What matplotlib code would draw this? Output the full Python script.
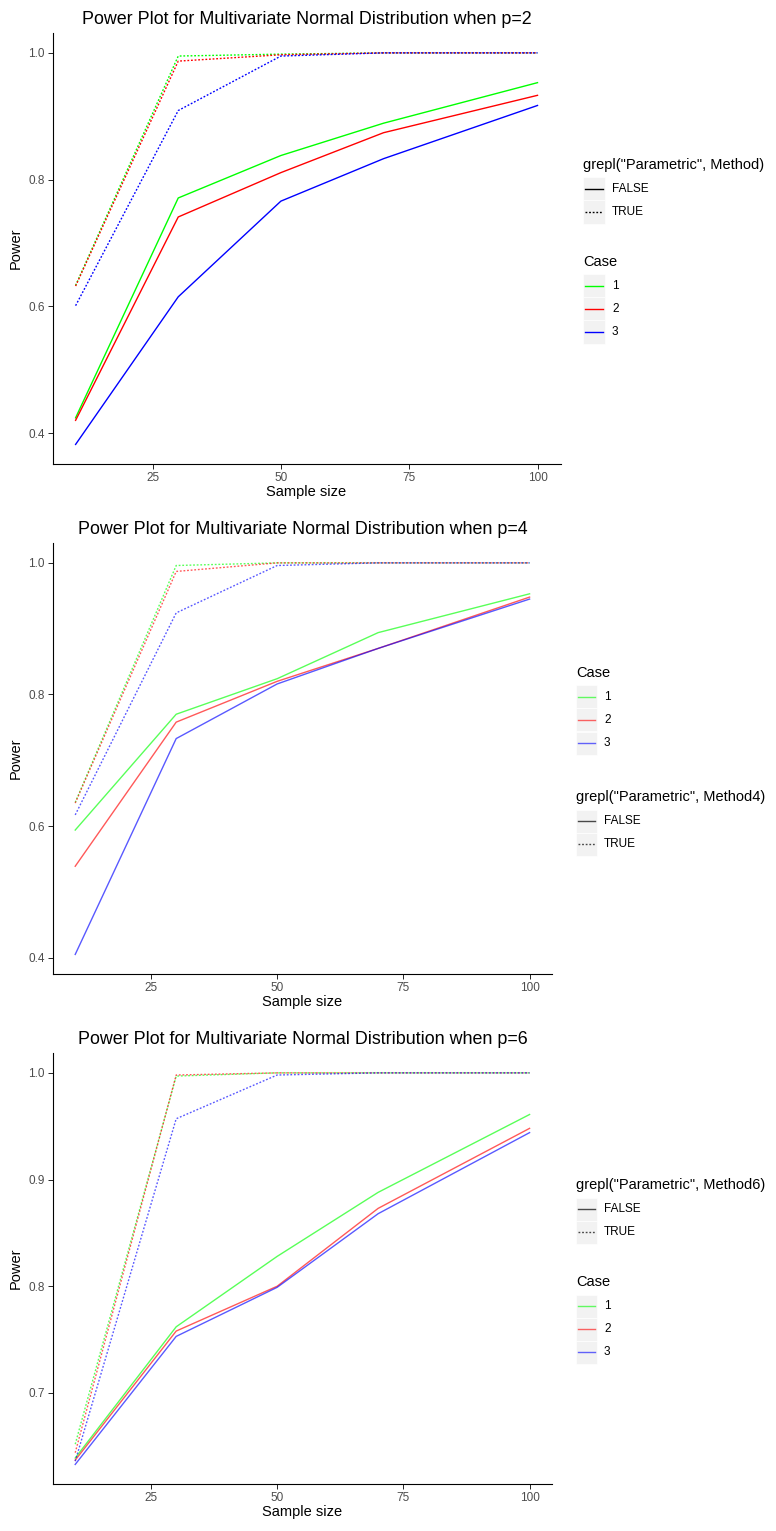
import numpy as np
import matplotlib.pyplot as plt
from matplotlib.patches import Rectangle
from matplotlib.lines import Line2D

plt.rcParams['font.family'] = ['Liberation Sans', 'DejaVu Sans']

# sample sizes
n = [10, 30, 50, 70, 100]
cases = ['1', '2', '3']
case_colors = ['#00FF00', '#FF0000', '#0000FF']

# p = 2  (solid = non-parametric, dotted = parametric)
p2_np = [[0.424, 0.771, 0.838, 0.889, 0.953],
         [0.420, 0.741, 0.811, 0.874, 0.933],
         [0.382, 0.615, 0.766, 0.833, 0.917]]
p2_par = [[0.633, 0.995, 0.998, 1.0, 1.0],
          [0.632, 0.987, 0.997, 1.0, 1.0],
          [0.601, 0.909, 0.995, 1.0, 1.0]]

# p = 4
p4_np = [[0.594, 0.770, 0.824, 0.894, 0.953],
         [0.539, 0.758, 0.820, 0.870, 0.948],
         [0.405, 0.733, 0.816, 0.870, 0.945]]
p4_par = [[0.636, 0.996, 1.0, 1.0, 1.0],
          [0.635, 0.987, 1.0, 1.0, 1.0],
          [0.617, 0.924, 0.996, 1.0, 1.0]]

# p = 6
p6_np = [[0.639, 0.762, 0.828, 0.888, 0.961],
         [0.637, 0.758, 0.800, 0.873, 0.948],
         [0.633, 0.753, 0.799, 0.868, 0.944]]
p6_par = [[0.652, 0.997, 1.0, 1.0, 1.0],
          [0.644, 0.998, 1.0, 1.0, 1.0],
          [0.636, 0.957, 0.998, 1.0, 1.0]]

lt_labels = ['FALSE', 'TRUE']

W, H = 776, 1531
fig = plt.figure(figsize=(W / 100, H / 100), dpi=100)
dotted = (0, (1.3, 1.3))


def px_rect(l, t, r, b):
    return [l / W, 1 - b / H, (r - l) / W, (b - t) / H]


def draw_panel(rect, title, np_vals, par_vals, yticks, alpha):
    ax = fig.add_axes(px_rect(*rect))
    for i in range(len(cases)):
        ax.plot(n, np_vals[i], color=case_colors[i], lw=1.0, alpha=alpha)
        ax.plot(n, par_vals[i], color=case_colors[i], lw=1.0, alpha=alpha, ls=dotted)
    allv = np.concatenate([np.ravel(np_vals), np.ravel(par_vals)])
    lo, hi = allv.min(), allv.max()
    pad = (hi - lo) * 0.05
    ax.set_ylim(lo - pad, hi + pad)
    ax.set_xlim(10 - 4.5, 100 + 4.5)
    ax.set_xticks([25, 50, 75, 100])
    ax.set_yticks(yticks)
    ax.set_yticklabels(['%.1f' % v for v in yticks])
    for s in ['top', 'right']:
        ax.spines[s].set_visible(False)
    for s in ['left', 'bottom']:
        ax.spines[s].set_linewidth(0.8)
    ax.tick_params(labelsize=8.5, labelcolor='#4D4D4D', length=3.5, width=0.6, pad=2)
    ax.set_xlabel('Sample size', fontsize=10.5, labelpad=1)
    ax.set_ylabel('Power', fontsize=10.5, labelpad=4)
    ax.set_title(title, fontsize=12.9, pad=7)
    return ax


def draw_legend(x0, y_title, title, items, kw):
    fig.text(x0 / W, 1 - y_title / H, title, fontsize=10.5, va='center', ha='left')
    for j, (lab, col, ls, a) in enumerate(items):
        yc = y_title + 24 + 23 * j
        fig.patches.append(Rectangle((x0 / W, 1 - (yc + 11.5) / H), kw / W, 23 / H,
                                     transform=fig.transFigure, facecolor='#F2F2F2',
                                     edgecolor='white', lw=0.5, zorder=1))
        fig.lines.append(Line2D([(x0 + 2) / W, (x0 + kw - 2) / W], [1 - yc / H, 1 - yc / H],
                                transform=fig.transFigure, color=col, ls=ls, lw=1.0,
                                alpha=a, zorder=3))
        fig.text((x0 + kw + 7) / W, 1 - yc / H, lab, fontsize=8.5, va='center', ha='left')


# panel p=2
draw_panel((52.5, 33.3, 560.6, 464), 'Power Plot for Multivariate Normal Distribution when p=2',
           p2_np, p2_par, [0.4, 0.6, 0.8, 1.0], 1.0)
lt_items = [(lt_labels[0], 'black', '-', 1.0), (lt_labels[1], 'black', dotted, 1.0)]
case_items = [(cases[i], case_colors[i], '-', 1.0) for i in range(3)]
draw_legend(583, 165, 'grepl("Parametric", Method)', lt_items, 22)
draw_legend(583, 262, 'Case', case_items, 22)

# panel p=4
draw_panel((52.5, 543.3, 552.3, 974), 'Power Plot for Multivariate Normal Distribution when p=4',
           p4_np, p4_par, [0.4, 0.6, 0.8, 1.0], 0.65)
case_items_a = [(cases[i], case_colors[i], '-', 0.6) for i in range(3)]
lt_items_a = [(lt_labels[0], 'black', '-', 0.7), (lt_labels[1], 'black', dotted, 0.7)]
draw_legend(576, 673, 'Case', case_items_a, 21)
draw_legend(576, 797, 'grepl("Parametric", Method4)', lt_items_a, 21)

# panel p=6
draw_panel((52.5, 1053.3, 552.3, 1484), 'Power Plot for Multivariate Normal Distribution when p=6',
           p6_np, p6_par, [0.7, 0.8, 0.9, 1.0], 0.65)
draw_legend(576, 1185, 'grepl("Parametric", Method6)', lt_items_a, 21)
draw_legend(576, 1282, 'Case', case_items_a, 21)

fig.savefig('out.png', dpi=100)
